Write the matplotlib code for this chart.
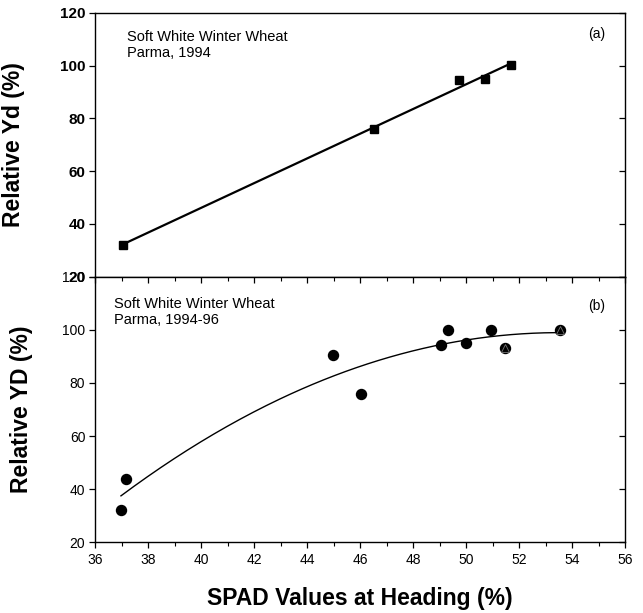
import numpy as np
import matplotlib
matplotlib.use("Agg")
import matplotlib.pyplot as plt
from matplotlib.ticker import MultipleLocator

plt.rcParams['font.family'] = ['Liberation Sans', 'DejaVu Sans']

# Panel (a): Parma 1994
spad_a = [37.05, 46.54, 49.72, 50.73, 51.70]
yield_a = [32.2, 76.0, 94.7, 94.9, 100.1]

# Panel (b): Parma 1994-96
spad_b = [36.98, 37.16, 44.99, 46.05, 49.05, 49.32, 50.00, 50.93, 51.47, 53.53]
yield_b = [32.3, 43.9, 90.5, 75.9, 94.4, 100.0, 94.9, 100.0, 93.3, 100.0]
spad_b_tri = [51.47, 53.53]
yield_b_tri = [93.3, 100.0]

x_ticks = [36, 38, 40, 42, 44, 46, 48, 50, 52, 54, 56]
y_ticks = [20, 40, 60, 80, 100, 120]

fig = plt.figure(figsize=(6.43, 6.13), dpi=100)
L, R = 95 / 643, 625 / 643
ax1 = fig.add_axes([L, 1 - 276.7 / 613, R - L, (276.7 - 13) / 613])
ax2 = fig.add_axes([L, 1 - 542.3 / 613, R - L, (542.3 - 276.7) / 613])

for ax in (ax1, ax2):
    ax.set_xlim(36, 56)
    ax.set_ylim(20, 120)
    ax.set_xticks(x_ticks)
    ax.xaxis.set_minor_locator(MultipleLocator(1))
    ax.set_yticks(y_ticks)
    for s in ax.spines.values():
        s.set_linewidth(1.0)
    ax.tick_params(axis='y', which='major', direction='out', length=4, width=0.9, pad=3)
    ax.tick_params(axis='x', which='major', direction='out', length=4.5, width=0.9)
    ax.tick_params(axis='x', which='minor', direction='out', length=3, width=0.8)

# right-side ticks inward
for ax in (ax1, ax2):
    ax.yaxis.set_tick_params(which='major', right=True, labelright=False)
    for t in ax.yaxis.get_major_ticks():
        t.tick2line.set_marker(matplotlib.lines.TICKLEFT)
        t.tick2line.set_markersize(4)

# ---- Panel (a)
ax1.plot(spad_a, yield_a, 's', color='black', markersize=6.3, zorder=3)
ca = np.polyfit(spad_a, yield_a, 1)
xa = np.linspace(min(spad_a), max(spad_a), 50)
ax1.plot(xa, np.polyval(ca, xa), '-', color='black', lw=1.6, zorder=2)
ax1.tick_params(axis='x', which='both', bottom=False, labelbottom=False)
for lab in ax1.get_yticklabels():
    lab.set_fontweight('bold')
    lab.set_fontsize(11)
ax1.set_ylabel('Relative Yd (%)', fontsize=16.5, fontweight='bold')
ax1.yaxis.set_label_coords(-0.132, 0.5)
ax1.text(0.06, 0.935, 'Soft White Winter Wheat\nParma, 1994', transform=ax1.transAxes,
         fontsize=10.5, va='top', ha='left', linespacing=1.15)
ax1.text(0.947, 0.92, '(a)', transform=ax1.transAxes, fontsize=10, ha='center', va='center')

# ---- Panel (b)
ax2.plot(spad_b, yield_b, 'o', color='black', markersize=7.2, zorder=3)
ax2.plot(spad_b_tri, yield_b_tri, '^', color='black', markeredgecolor='#777777',
         markeredgewidth=0.6, markersize=6, zorder=4)
cb = np.polyfit(spad_b, yield_b, 2)
xb = np.linspace(min(spad_b), max(spad_b), 200)
ax2.plot(xb, np.polyval(cb, xb), '-', color='black', lw=1.0, zorder=2)
ax2.tick_params(axis='both', labelsize=10)
ax2.tick_params(axis='x', which='major', top=True, direction='out', length=4.5)
ax2.tick_params(axis='x', which='minor', top=True, direction='out', length=3)
for t in ax2.xaxis.get_major_ticks():
    t.tick2line.set_marker(matplotlib.lines.TICKDOWN)
for t in ax2.xaxis.get_minor_ticks():
    t.tick2line.set_marker(matplotlib.lines.TICKDOWN)
ax2.set_ylabel('Relative YD (%)', fontsize=16.5, fontweight='bold')
ax2.yaxis.set_label_coords(-0.117, 0.5)
ax2.set_xlabel('SPAD Values at Heading (%)', fontsize=16.5, fontweight='bold', labelpad=14)
ax2.text(0.036, 0.867, 'Soft White Winter Wheat\nParma, 1994-96', transform=ax2.transAxes,
         fontsize=10.5, va='center', ha='left', linespacing=1.15)
ax2.text(0.947, 0.89, '(b)', transform=ax2.transAxes, fontsize=10, ha='center', va='center')

fig.savefig('out.png', dpi=100)
